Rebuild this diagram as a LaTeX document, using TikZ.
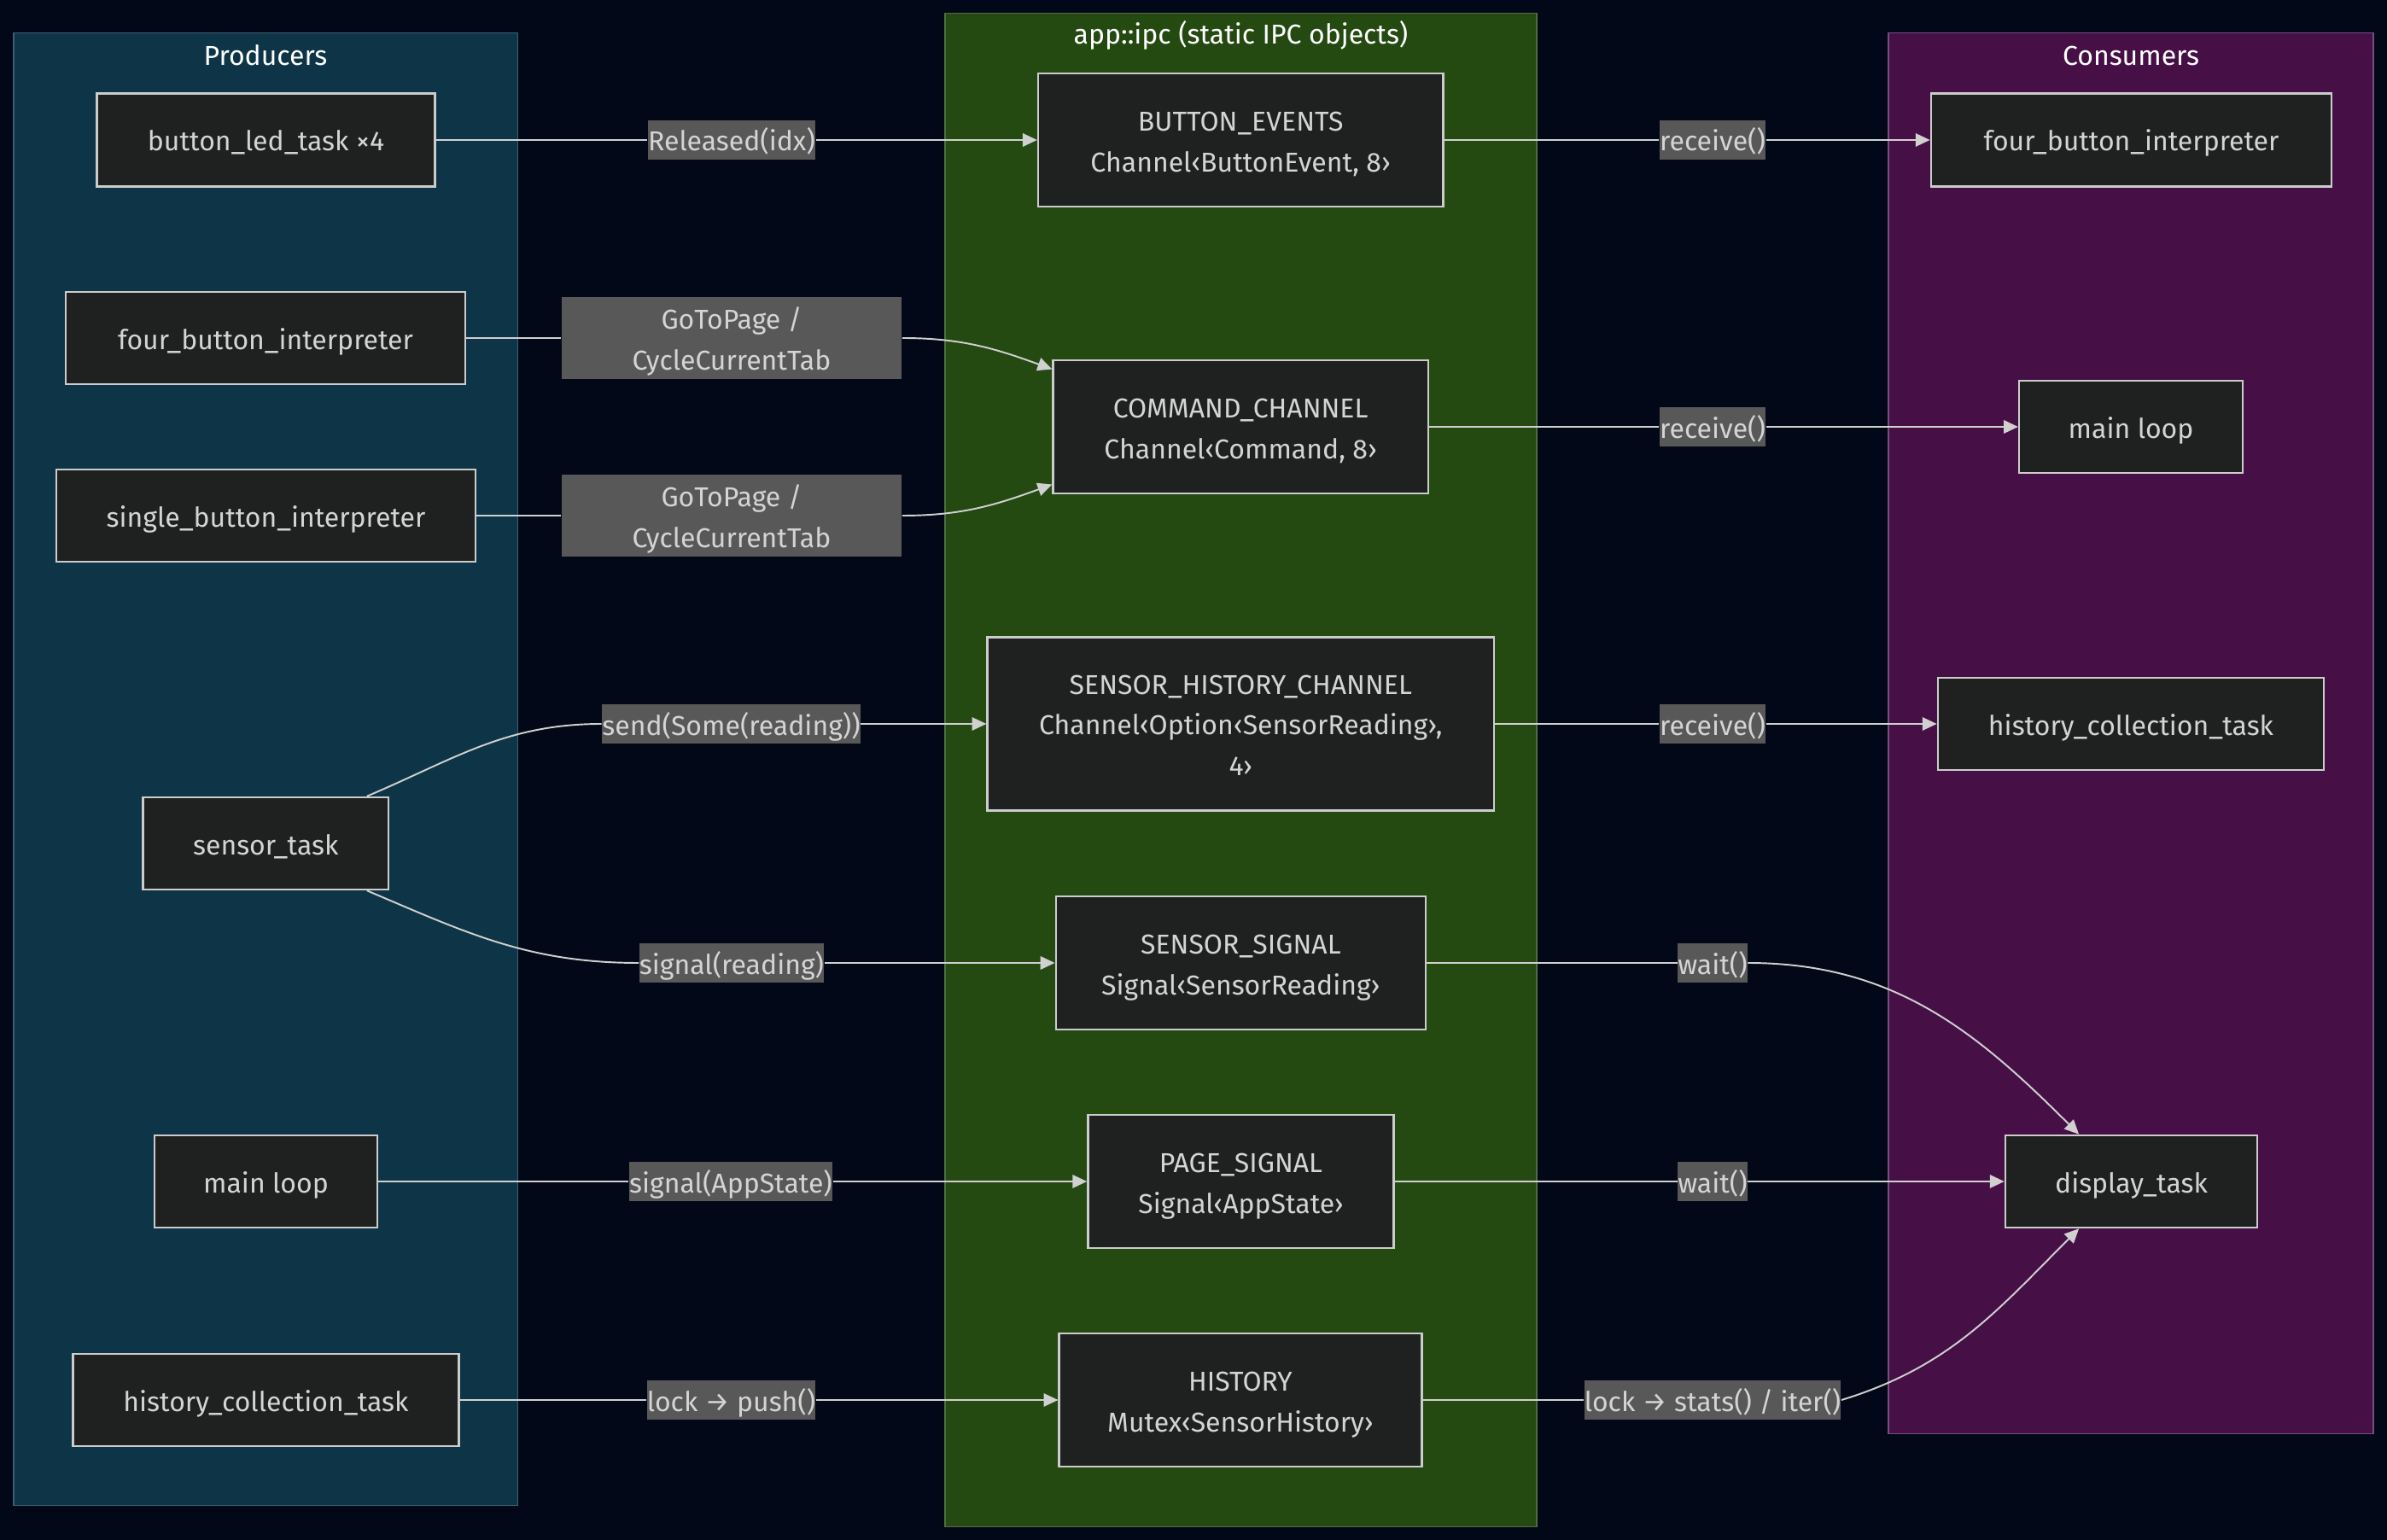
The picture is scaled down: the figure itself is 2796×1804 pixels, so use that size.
\documentclass[tikz,border=0pt]{standalone}
\usepackage{fontspec}
\setmainfont{Fira Sans}
\usetikzlibrary{arrows.meta,calc}
\definecolor{bg}{HTML}{020817}
\definecolor{prodfill}{HTML}{0E3547}
\definecolor{prodline}{HTML}{3E5E70}
\definecolor{ipcfill}{HTML}{244A12}
\definecolor{ipcline}{HTML}{4E6E40}
\definecolor{consfill}{HTML}{461046}
\definecolor{consline}{HTML}{735080}
\definecolor{nodefill}{HTML}{1F2020}
\definecolor{nodeline}{HTML}{CCCCCC}
\definecolor{txt}{HTML}{D4D4D4}
\definecolor{lblfill}{HTML}{585858}
\definecolor{edgecol}{HTML}{D0D0D0}
\newcommand{\dfont}{\fontsize{9.1}{13.6}\selectfont}
\begin{document}
\begin{tikzpicture}[x=0.01cm,y=-0.01cm,
  cluster/.style={draw, line width=0.45pt, inner sep=0pt},
  oneline/.style={text height=8.4pt, text depth=1pt},
  twoline/.style={text height=22.4pt, text depth=1pt},
  task/.style={draw=nodeline, fill=nodefill, text=txt, line width=0.7pt, inner sep=0pt, align=center, font=\dfont, minimum height=1.08cm, oneline},
  ipc/.style={task, minimum height=1.56cm, twoline},
  lbl/.style={fill=lblfill, text=txt, inner xsep=0pt, inner ysep=0pt, minimum height=0.46cm, align=center, font=\dfont, oneline},
  ctitle/.style={text=white, font=\dfont},
  edge/.style={draw=edgecol, line width=0.55pt},
  arr/.style={edge, -{Triangle[length=4.8pt,width=4.4pt]}}
]
\fill[bg] (0,0) rectangle (2796,1804);

% clusters
\node[cluster, fill=prodfill, draw=prodline, minimum width=5.905cm, minimum height=17.24cm] (prod) at (311.25,901) {};
\node[cluster, fill=ipcfill, draw=ipcline, minimum width=6.93cm, minimum height=17.72cm] (ipcbox) at (1453.5,902) {};
\node[cluster, fill=consfill, draw=consline, minimum width=5.68cm, minimum height=16.40cm] (cons) at (2496,859) {};
\node[ctitle] (tprod) at (311,65) {Producers};
\node[ctitle] (tipc) at (1453.5,41.5) {app::ipc (static IPC objects)};
\node[ctitle] (tcons) at (2496,65) {Consumers};

% producers
\node[task, minimum width=3.96cm, minimum height=1.09cm] (p1) at (311.5,164) {button\_led\_task ×4};
\node[task, minimum width=4.68cm] (p2) at (311,396) {four\_button\_interpreter};
\node[task, minimum width=4.91cm] (p3) at (311.5,604) {single\_button\_interpreter};
\node[task, minimum width=2.87cm] (p4) at (311.3,988) {sensor\_task};
\node[task, minimum width=2.61cm] (p5) at (311.5,1384) {main loop};
\node[task, minimum width=4.52cm] (p6) at (311.5,1640) {history\_collection\_task};

% ipc objects
\node[ipc, minimum width=4.74cm] (c1) at (1453.2,164) {BUTTON\_EVENTS\\Channel‹ButtonEvent, 8›};
\node[ipc, minimum width=4.39cm] (c2) at (1453.2,500) {COMMAND\_CHANNEL\\Channel‹Command, 8›};
\node[ipc, minimum width=5.93cm, minimum height=2.03cm, text height=35.5pt] (c3) at (1453.3,848) {SENSOR\_HISTORY\_CHANNEL\\Channel‹Option‹SensorReading›,\\4›};
\node[ipc, minimum width=4.33cm] (c4) at (1453.4,1128) {SENSOR\_SIGNAL\\Signal‹SensorReading›};
\node[ipc, minimum width=3.58cm] (c5) at (1453.5,1384) {PAGE\_SIGNAL\\Signal‹AppState›};
\node[ipc, minimum width=4.245cm] (c6) at (1453,1640) {HISTORY\\Mutex‹SensorHistory›};

% consumers
\node[task, minimum width=4.69cm, minimum height=1.09cm] (k1) at (2496.5,164) {four\_button\_interpreter};
\node[task, minimum width=2.615cm] (k2) at (2496,500) {main loop};
\node[task, minimum width=4.52cm] (k3) at (2496,848) {history\_collection\_task};
\node[task, minimum width=2.95cm] (k4) at (2496.5,1384) {display\_task};

% edge labels
\node[lbl] (l1) at (857,164) {Released(idx)};
\node[lbl, minimum width=3.98cm, minimum height=0.96cm, twoline] (l2) at (857,396) {GoToPage /\\CycleCurrentTab};
\node[lbl, minimum width=3.98cm, minimum height=0.96cm, twoline] (l3) at (857,604) {GoToPage /\\CycleCurrentTab};
\node[lbl] (l4) at (856.5,848) {send(Some(reading))};
\node[lbl] (l5) at (857,1128) {signal(reading)};
\node[lbl] (l6) at (856,1384) {signal(AppState)};
\node[lbl] (l7) at (856.5,1640) {lock → push()};
\node[lbl] (l8) at (2006,164) {receive()};
\node[lbl] (l9) at (2006,500) {receive()};
\node[lbl] (l10) at (2006,848) {receive()};
\node[lbl] (l11) at (2006,1128) {wait()};
\node[lbl] (l12) at (2006,1384) {wait()};
\node[lbl] (l13) at (2006,1640) {lock → stats() / iter()};

% edges: producers -> ipc
\draw[edge] (p1) -- (l1);
\draw[arr] (l1) -- (c1);
\draw[edge] (p2) -- (l2);
\draw[arr] (l2.east) to[out=0,in=160] (c2.163);
\draw[edge] (p3) -- (l3);
\draw[arr] (l3.east) to[out=0,in=200] (c2.197);
\draw[edge] (p4.25) to[out=23,in=180] (l4.west);
\draw[arr] (l4) -- (c3);
\draw[edge] (p4.-25) to[out=-23,in=180] (l5.west);
\draw[arr] (l5) -- (c4);
\draw[edge] (p5) -- (l6);
\draw[arr] (l6) -- (c5);
\draw[edge] (p6) -- (l7);
\draw[arr] (l7) -- (c6);

% edges: ipc -> consumers
\draw[edge] (c1) -- (l8);
\draw[arr] (l8) -- (k1);
\draw[edge] (c2) -- (l9);
\draw[arr] (l9) -- (k2);
\draw[edge] (c3) -- (l10);
\draw[arr] (l10) -- (k3);
\draw[edge] (c4) -- (l11);
\draw[arr] (l11.east) to[out=0,in=135] (k4.138);
\draw[edge] (c5) -- (l12);
\draw[arr] (l12) -- (k4);
\draw[edge] (c6) -- (l13);
\draw[arr] (l13.east) to[out=17,in=-135] (k4.-138);
\end{tikzpicture}
\end{document}
